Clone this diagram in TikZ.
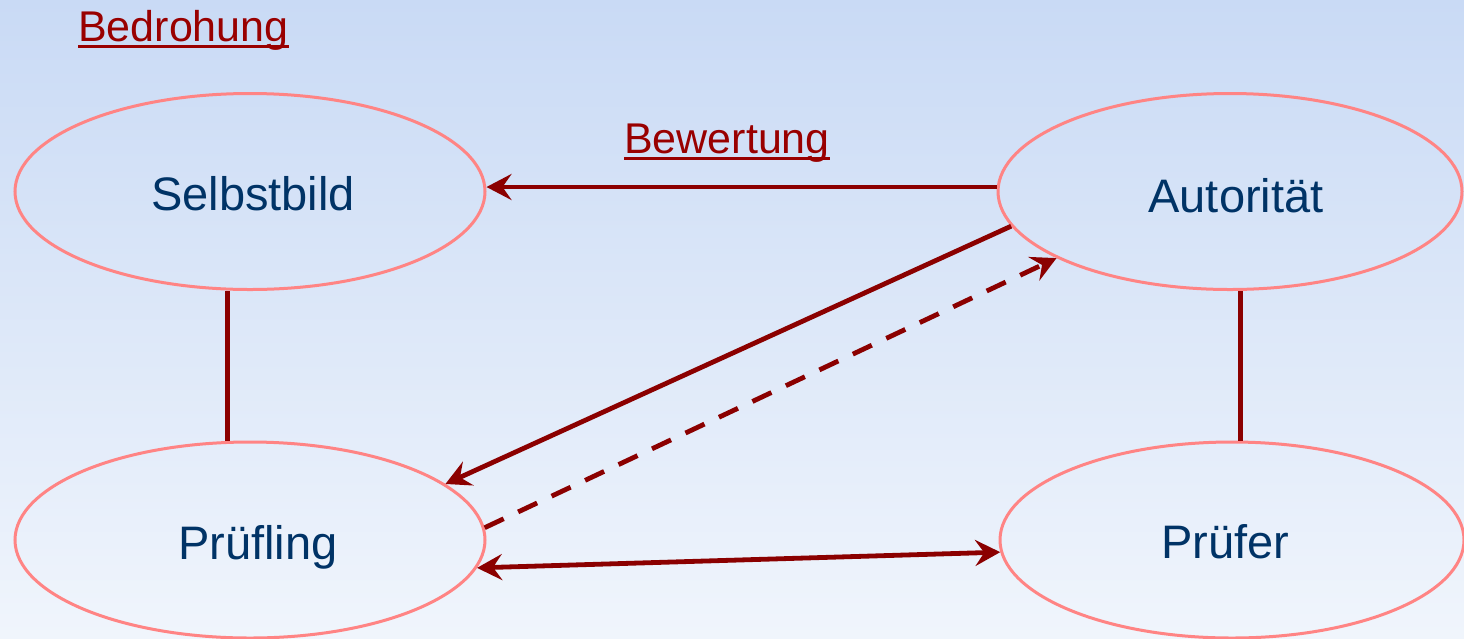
\documentclass[tikz,border=0pt]{standalone}
\usepackage{fontspec}
\setmainfont{Liberation Sans}
\usetikzlibrary{arrows.meta,shapes.geometric}
\definecolor{bgtop}{RGB}{201,218,245}
\definecolor{bgbot}{RGB}{240,245,252}
\definecolor{ellred}{RGB}{255,132,132}
\definecolor{txtblue}{RGB}{0,51,102}
\definecolor{darrow}{RGB}{139,0,0}
\definecolor{dtext}{RGB}{153,0,0}
\tikzset{
  ell/.style={ellipse, draw=ellred, line width=3pt, inner sep=0pt, minimum height=196pt},
  lbl/.style={inner sep=0pt, anchor=base, text=txtblue, font=\fontsize{47}{54}\selectfont},
  ttl/.style={inner sep=0pt, anchor=base west, text=dtext, font=\fontsize{43}{50}\selectfont},
  ul/.style={draw=dtext, line width=3pt},
  conn/.style={draw=darrow, line width=4.8pt},
  tip/.style={-{Stealth[length=25pt,width=26pt,inset=9pt]}},
  dtip/.style={{Stealth[length=25pt,width=26pt,inset=9pt]}-{Stealth[length=25pt,width=26pt,inset=9pt]}},
  dsh/.style={dash pattern=on 21pt off 16pt}
}
\begin{document}
\begin{tikzpicture}[x=1pt,y=-1pt]
\shade[top color=bgtop, bottom color=bgbot] (0,0) rectangle (1464,638);
\useasboundingbox (0,0) rectangle (1464,638);
% ellipses
\node[ell, minimum width=470pt] (sb) at (250,191.5) {};
\node[ell, minimum width=464pt] (au) at (1230,191.5) {};
\node[ell, minimum width=470pt] (pr) at (250,540) {};
\node[ell, minimum width=464pt] (pf) at (1232,540) {};
% labels
\node[lbl] (sbt) at (253,210) {Selbstbild};
\node[lbl] (aut) at (1236,212) {Autorität};
\node[lbl] (prt) at (258,559) {Prüfling};
\node[lbl] (pft) at (1225,558) {Prüfer};
\node[ttl] (bd) at (78,41) {Bedrohung};
\node[ttl] (bw) at (624,153) {Bewertung};
\draw[ul] ([yshift=-5pt]bd.base west) -- ([yshift=-5pt]bd.base east);
\draw[ul] ([yshift=-5pt]bw.base west) -- ([yshift=-5pt]bw.base east);
% connectors
\coordinate (hs) at ([yshift=4.5pt]au.west);
\draw[conn,tip] (hs) -- (hs -| sb.east);
\draw[conn,tip] (au.189.5) -- (pr.16.4);
\draw[conn,tip,dsh] (pr.3.4) -- (au.201.4);
\draw[conn,dtip] (pr.-7.7) -- (pf.183.2);
\coordinate (vl) at ([xshift=-22.5pt]sb.south);
\draw[conn] (vl) -- (vl |- pr.north);
\coordinate (vr) at ([xshift=10.7pt]au.south);
\draw[conn] (vr) -- (vr |- pf.north);
\end{tikzpicture}
\end{document}
